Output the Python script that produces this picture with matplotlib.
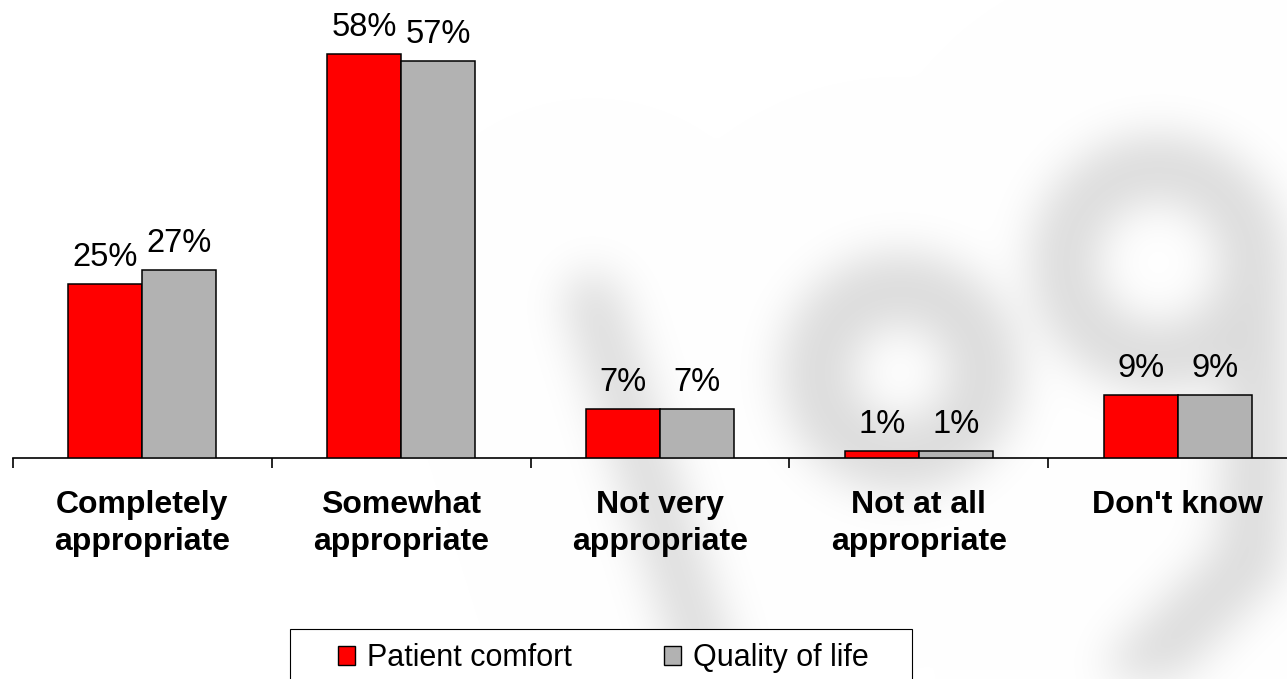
import matplotlib
matplotlib.use('Agg')

import matplotlib.pyplot as plt
import numpy as np
from matplotlib.patches import Patch, Rectangle

plt.rcParams['font.family'] = ['Liberation Sans', 'DejaVu Sans']

# survey answers, percent of respondents
categories = ['Completely\nappropriate', 'Somewhat\nappropriate', 'Not very\nappropriate',
              'Not at all\nappropriate', "Don't know"]
series_names = ['Patient comfort', 'Quality of life']
patient_comfort = [25, 58, 7, 1, 9]
quality_of_life = [27, 57, 7, 1, 9]
colors = ['#ff0000', '#b2b2b2']

W, H = 1287, 679
fig = plt.figure(figsize=(W / 100, H / 100), dpi=100)
fig.patch.set_facecolor('white')

# faint blurred logo in the background
yy, xx = np.mgrid[0:H, 0:W].astype(float)


def seg_dist(x0, y0, x1, y1):
    dx, dy = x1 - x0, y1 - y0
    t = np.clip(((xx - x0) * dx + (yy - y0) * dy) / (dx * dx + dy * dy), 0, 1)
    return np.hypot(xx - (x0 + t * dx), yy - (y0 + t * dy))


def gauss_matrix(n, sigma):
    i = np.arange(n)
    k = np.exp(-0.5 * ((i[:, None] - i[None, :]) / sigma) ** 2)
    return k / (sigma * np.sqrt(2 * np.pi))


shape = np.zeros((H, W))
shape[seg_dist(592, 300, 715, 690) < 28] = 1
r_e = np.hypot(xx - 900, yy - 372)
shape[(r_e < 120) & (r_e > 48)] = 1
r_g = np.hypot(xx - 1158, yy - 262)
shape[(r_g < 128) & (r_g > 62)] = 1
shape[seg_dist(1262, 300, 1250, 560) < 32] = 1
shape[seg_dist(1250, 560, 1140, 670) < 32] = 1

sigma = 22
soft = gauss_matrix(H, sigma) @ shape @ gauss_matrix(W, sigma)
shade = 1 - 0.14 * np.clip(soft, 0, 1)
fig.figimage(np.dstack([shade] * 3), xo=0, yo=0, origin='upper', zorder=-5)

ax = fig.add_axes([13 / W, 221 / H, 1294 / W, 453 / H])
ax.patch.set_visible(False)

x = np.arange(len(categories))
w = 0.286
b1 = ax.bar(x - w / 2, patient_comfort, w, color=colors[0], edgecolor='black',
            linewidth=1.1, label=series_names[0], zorder=3)
b2 = ax.bar(x + w / 2, quality_of_life, w, color=colors[1], edgecolor='black',
            linewidth=1.1, label=series_names[1], zorder=3)
for bars in (b1, b2):
    ax.bar_label(bars, labels=[f'{v}%' for v in bars.datavalues], padding=8,
                 fontsize=23.5)

ax.set_xlim(-0.5, len(categories) - 0.5)
ax.set_ylim(0, 65)
for s in ['left', 'right', 'top']:
    ax.spines[s].set_visible(False)
ax.spines['bottom'].set_linewidth(1.2)
ax.set_yticks([])

ax.set_xticks(x)
ax.set_xticklabels(categories, fontsize=23, fontweight='bold', linespacing=1.3)
ax.tick_params(axis='x', which='major', length=0, pad=23)
ax.set_xticks(np.arange(len(categories) + 1) - 0.5, minor=True)
ax.tick_params(axis='x', which='minor', length=7.5, width=1.2, direction='out')

# legend with a plain rectangular frame
fig.patches.append(Rectangle((290 / W, -0.05), 622 / W, 0.05 + 50 / H,
                             transform=fig.transFigure, facecolor='white',
                             edgecolor='black', linewidth=0.8, zorder=1))
handles = [Patch(facecolor=c, edgecolor='black', linewidth=1.0) for c in colors]
leg = fig.legend(handles, series_names, loc='center left',
                 bbox_to_anchor=(338 / W, 1 - 658 / H), ncol=2, frameon=False,
                 fontsize=22, handlelength=0.56, handleheight=0.56,
                 handletextpad=0.4, columnspacing=3.0, borderpad=0,
                 borderaxespad=0)
leg.set_zorder(2)

fig.savefig('out.png', dpi=100)
plt.close()
